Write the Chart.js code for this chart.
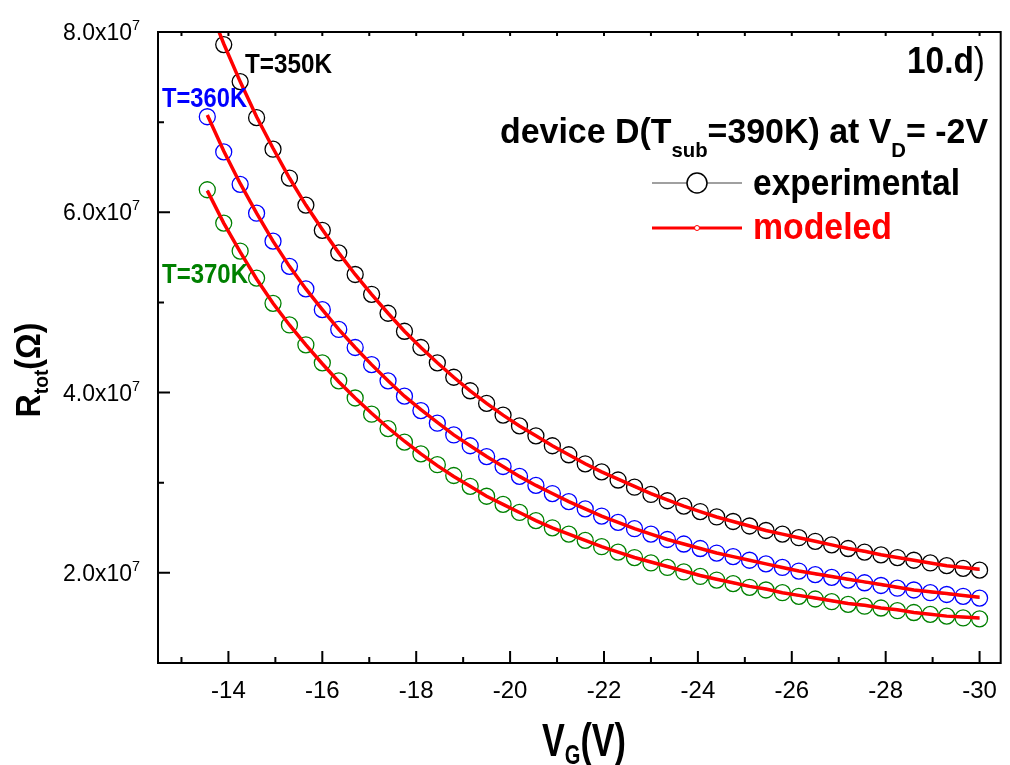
<!DOCTYPE html>
<html>
<head>
<meta charset="utf-8">
<script src="https://cdn.jsdelivr.net/npm/chart.js@4.4.1/dist/chart.umd.min.js"></script>
<style>
  body { margin: 0; background: #fff; }
  canvas { display: block; }
</style>
</head>
<body>
<canvas id="myChart" width="1010" height="765"></canvas>
<script>
// gate voltage steps (V)
const vg = [-13.55, -13.90, -14.25, -14.60, -14.95, -15.30, -15.65, -16.00, -16.35, -16.70,
  -17.05, -17.40, -17.75, -18.10, -18.45, -18.80, -19.15, -19.50, -19.85, -20.20,
  -20.55, -20.90, -21.25, -21.60, -21.95, -22.30, -22.65, -23.00, -23.35, -23.70,
  -24.05, -24.40, -24.75, -25.10, -25.45, -25.80, -26.15, -26.50, -26.85, -27.20,
  -27.55, -27.90, -28.25, -28.60, -28.95, -29.30, -29.65, -30.00];

// experimental R_tot, in units of 1e7 ohm
const exp350 = [8.33, 7.86, 7.45, 7.05, 6.70, 6.38, 6.08, 5.80, 5.55, 5.31,
  5.09, 4.88, 4.68, 4.50, 4.33, 4.17, 4.02, 3.88, 3.75, 3.63,
  3.52, 3.41, 3.31, 3.21, 3.12, 3.03, 2.95, 2.87, 2.80, 2.74,
  2.68, 2.62, 2.57, 2.52, 2.47, 2.43, 2.39, 2.35, 2.31, 2.27,
  2.23, 2.20, 2.17, 2.14, 2.11, 2.08, 2.05, 2.03];
const exp360 = [7.06, 6.67, 6.31, 5.99, 5.68, 5.40, 5.15, 4.92, 4.70, 4.50,
  4.31, 4.13, 3.96, 3.80, 3.66, 3.53, 3.41, 3.29, 3.18, 3.07,
  2.97, 2.88, 2.79, 2.71, 2.63, 2.56, 2.49, 2.43, 2.37, 2.32,
  2.27, 2.22, 2.18, 2.14, 2.10, 2.06, 2.02, 1.98, 1.95, 1.92,
  1.89, 1.86, 1.83, 1.81, 1.78, 1.76, 1.74, 1.72];
const exp370 = [6.25, 5.88, 5.57, 5.27, 4.99, 4.75, 4.53, 4.33, 4.13, 3.94,
  3.76, 3.60, 3.45, 3.32, 3.20, 3.08, 2.96, 2.85, 2.76, 2.67,
  2.58, 2.50, 2.43, 2.36, 2.29, 2.23, 2.17, 2.11, 2.06, 2.01,
  1.96, 1.92, 1.88, 1.84, 1.81, 1.78, 1.74, 1.71, 1.68, 1.65,
  1.63, 1.61, 1.58, 1.56, 1.54, 1.52, 1.50, 1.49];

// modeled R_tot, in units of 1e7 ohm
const mod350 = [8.33, 7.87, 7.45, 7.06, 6.71, 6.38, 6.08, 5.81, 5.55, 5.31,
  5.09, 4.88, 4.68, 4.50, 4.33, 4.17, 4.02, 3.88, 3.75, 3.63,
  3.52, 3.41, 3.31, 3.21, 3.12, 3.04, 2.96, 2.88, 2.81, 2.74,
  2.68, 2.62, 2.57, 2.52, 2.47, 2.43, 2.39, 2.35, 2.31, 2.27,
  2.24, 2.20, 2.17, 2.14, 2.11, 2.08, 2.06, 2.04];
const mod360 = [7.08, 6.68, 6.32, 5.99, 5.68, 5.40, 5.15, 4.92, 4.70, 4.50,
  4.31, 4.13, 3.96, 3.81, 3.67, 3.53, 3.41, 3.29, 3.18, 3.07,
  2.97, 2.88, 2.79, 2.71, 2.63, 2.56, 2.49, 2.43, 2.37, 2.32,
  2.27, 2.22, 2.18, 2.14, 2.10, 2.06, 2.02, 1.99, 1.96, 1.93,
  1.90, 1.87, 1.84, 1.81, 1.79, 1.77, 1.75, 1.73];
const mod370 = [6.24, 5.88, 5.56, 5.26, 4.99, 4.75, 4.53, 4.32, 4.12, 3.94,
  3.77, 3.61, 3.46, 3.32, 3.19, 3.07, 2.96, 2.85, 2.76, 2.67,
  2.58, 2.50, 2.43, 2.36, 2.29, 2.23, 2.17, 2.12, 2.07, 2.02,
  1.97, 1.93, 1.89, 1.85, 1.82, 1.78, 1.75, 1.72, 1.69, 1.66,
  1.64, 1.61, 1.59, 1.56, 1.54, 1.52, 1.51, 1.50];

// axis ticks
const xMajor = [-14, -16, -18, -20, -22, -24, -26, -28, -30];
const xMinor = [-13, -15, -17, -19, -21, -23, -25, -27, -29];
const yMajor = [2e7, 4e7, 6e7, 8e7];
const yMinor = [1e7, 3e7, 5e7, 7e7];
const yLabels = ['2.0x10', '4.0x10', '6.0x10', '8.0x10'];

const FONT = "'Liberation Sans', Arial, sans-serif";

function pts(vals) {
  return vals.map((v, i) => ({ x: vg[i], y: v * 1e7 }));
}

// draw a run of text pieces, squeezed to a given width
function drawRuns(ctx, parts, x, y, width, align) {
  ctx.save();
  ctx.textBaseline = 'alphabetic';
  ctx.textAlign = 'left';
  let natural = 0;
  parts.forEach(p => { ctx.font = p.font; p.w = ctx.measureText(p.t).width; natural += p.w; });
  const sx = width ? width / natural : 1;
  const total = natural * sx;
  let start = x;
  if (align === 'right') start = x - total;
  if (align === 'center') start = x - total / 2;
  ctx.translate(start, y);
  ctx.scale(sx, 1);
  let cx = 0;
  parts.forEach(p => {
    ctx.font = p.font;
    ctx.fillStyle = p.color || '#000';
    ctx.fillText(p.t, cx, p.dy || 0);
    cx += p.w;
  });
  ctx.restore();
}

const decor = {
  id: 'decor',
  afterDraw(chart) {
    const ctx = chart.ctx;
    const a = chart.chartArea;
    const xs = chart.scales.x, ys = chart.scales.y;
    ctx.save();
    ctx.strokeStyle = '#000';
    ctx.lineWidth = 2;
    ctx.strokeRect(a.left, a.top, a.right - a.left, a.bottom - a.top);

    ctx.beginPath();
    xMajor.forEach(v => {
      const px = xs.getPixelForValue(v);
      ctx.moveTo(px, a.bottom); ctx.lineTo(px, a.bottom - 12);
      ctx.moveTo(px, a.top); ctx.lineTo(px, a.top + 4);
    });
    xMinor.forEach(v => {
      const px = xs.getPixelForValue(v);
      ctx.moveTo(px, a.bottom); ctx.lineTo(px, a.bottom - 6);
      ctx.moveTo(px, a.top); ctx.lineTo(px, a.top + 4);
    });
    yMajor.forEach(v => {
      const py = ys.getPixelForValue(v);
      ctx.moveTo(a.left, py); ctx.lineTo(a.left + 12, py);
    });
    yMinor.forEach(v => {
      const py = ys.getPixelForValue(v);
      ctx.moveTo(a.left, py); ctx.lineTo(a.left + 6, py);
    });
    ctx.stroke();

    // tick labels
    xMajor.forEach(v => {
      drawRuns(ctx, [{ t: String(v), font: '24px ' + FONT }], xs.getPixelForValue(v), 698, 0, 'center');
    });
    yMajor.forEach((v, i) => {
      const py = ys.getPixelForValue(v);
      drawRuns(ctx, [
        { t: yLabels[i], font: '24px ' + FONT },
        { t: '7', font: '15px ' + FONT, dy: -10 }
      ], 140, py + 8, 77, 'right');
    });

    // axis titles
    drawRuns(ctx, [
      { t: 'V', font: 'bold 46px ' + FONT },
      { t: 'G', font: 'bold 27px ' + FONT, dy: 8 },
      { t: '(V)', font: 'bold 46px ' + FONT }
    ], 584, 756, 84, 'center');
    ctx.save();
    ctx.translate(40, 370);
    ctx.rotate(-Math.PI / 2);
    drawRuns(ctx, [
      { t: 'R', font: 'bold 35px ' + FONT },
      { t: 'tot', font: 'bold 21px ' + FONT, dy: 8 },
      { t: '(\u03A9)', font: 'bold 35px ' + FONT }
    ], 0, 0, 95, 'center');
    ctx.restore();

    // curve labels
    drawRuns(ctx, [{ t: 'T=350K', font: 'bold 28px ' + FONT, color: '#000' }], 245, 73, 87, 'left');
    drawRuns(ctx, [{ t: 'T=360K', font: 'bold 28px ' + FONT, color: '#0000ff' }], 162, 107, 85, 'left');
    drawRuns(ctx, [{ t: 'T=370K', font: 'bold 28px ' + FONT, color: '#008000' }], 162, 283, 86, 'left');

    drawRuns(ctx, [
      { t: '10.d', font: 'bold 36px ' + FONT },
      { t: ')', font: '36px ' + FONT }
    ], 985, 73, 78, 'right');

    drawRuns(ctx, [
      { t: 'device D(T', font: 'bold 35px ' + FONT },
      { t: 'sub', font: 'bold 21px ' + FONT, dy: 14 },
      { t: '=390K) at V', font: 'bold 35px ' + FONT },
      { t: 'D', font: 'bold 21px ' + FONT, dy: 14 },
      { t: '= -2V', font: 'bold 35px ' + FONT }
    ], 500, 143, 488, 'left');

    // legend
    ctx.beginPath();
    ctx.strokeStyle = '#808080';
    ctx.lineWidth = 1.5;
    ctx.moveTo(652, 183); ctx.lineTo(742, 183);
    ctx.stroke();
    ctx.beginPath();
    ctx.arc(697, 183, 10, 0, Math.PI * 2);
    ctx.fillStyle = '#fff';
    ctx.fill();
    ctx.strokeStyle = '#000';
    ctx.lineWidth = 1.5;
    ctx.stroke();
    drawRuns(ctx, [{ t: 'experimental', font: 'bold 36px ' + FONT }], 753, 195, 207, 'left');

    ctx.beginPath();
    ctx.strokeStyle = '#ff0000';
    ctx.lineWidth = 3;
    ctx.moveTo(652, 228); ctx.lineTo(742, 228);
    ctx.stroke();
    ctx.beginPath();
    ctx.arc(697, 228, 2.5, 0, Math.PI * 2);
    ctx.fillStyle = '#fff';
    ctx.fill();
    ctx.lineWidth = 1;
    ctx.stroke();
    drawRuns(ctx, [{ t: 'modeled', font: 'bold 36px ' + FONT, color: '#ff0000' }], 753, 239, 139, 'left');

    ctx.restore();
  }
};

function expSet(vals, color, lineColor) {
  return {
    data: pts(vals),
    showLine: true,
    borderColor: lineColor,
    borderWidth: 1,
    pointRadius: 8,
    pointBorderWidth: 1.3,
    pointBorderColor: color,
    pointBackgroundColor: 'rgba(0,0,0,0)',
    clip: 0,
    order: 1
  };
}

function modSet(vals) {
  return {
    data: pts(vals),
    showLine: true,
    borderColor: '#ff0000',
    borderWidth: 3.5,
    pointRadius: 0,
    clip: 0,
    order: 0
  };
}

new Chart('myChart', {
  type: 'scatter',
  data: {
    datasets: [
      expSet(exp350, '#000000', '#000000'),
      expSet(exp360, '#0000ff', '#0000ff'),
      expSet(exp370, '#008000', '#00c8c8'),
      modSet(mod350),
      modSet(mod360),
      modSet(mod370)
    ]
  },
  options: {
    responsive: false,
    animation: false,
    layout: { padding: { top: 32, right: 4, left: 0, bottom: 0 } },
    plugins: { legend: { display: false }, tooltip: { enabled: false } },
    scales: {
      x: {
        type: 'linear', min: -30.45, max: -12.5, reverse: true,
        grid: { display: false }, border: { display: false },
        ticks: { display: false },
        afterFit: s => { s.height = 102; }
      },
      y: {
        type: 'linear', min: 1e7, max: 8e7,
        grid: { display: false }, border: { display: false },
        ticks: { display: false },
        afterFit: s => { s.width = 158; }
      }
    }
  },
  plugins: [decor]
});
</script>
</body>
</html>
